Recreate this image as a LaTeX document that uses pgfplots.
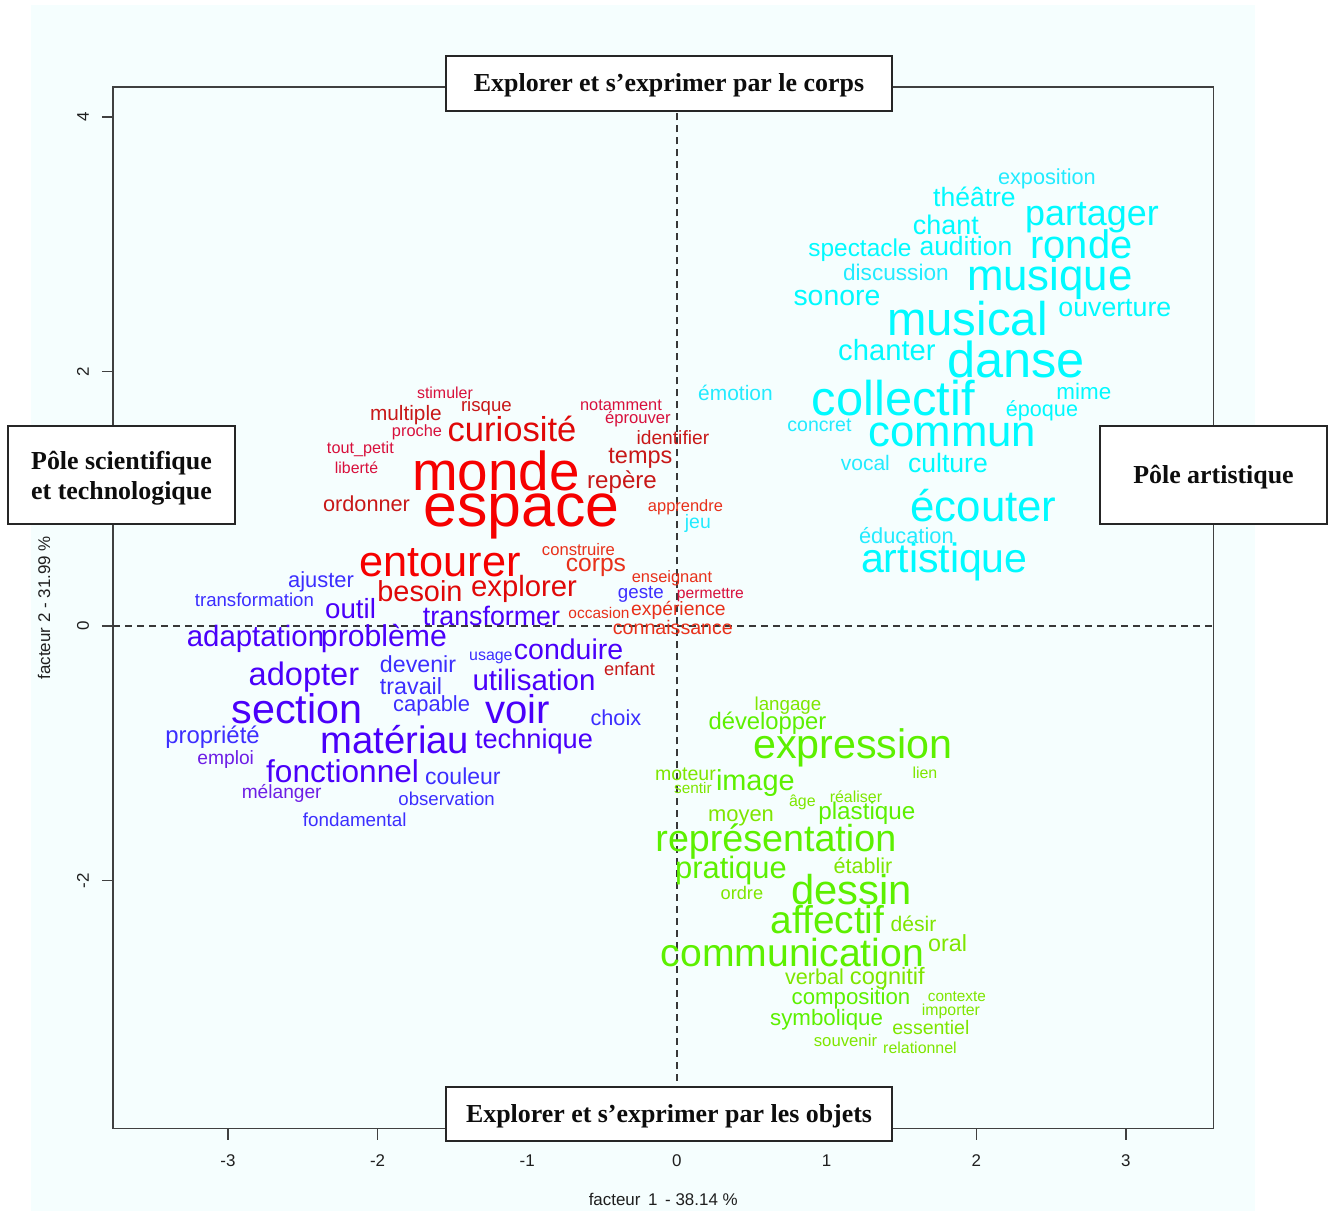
\documentclass[border=0pt]{standalone}
\usepackage{pgfplots}
\pgfplotsset{compat=1.18}
\usepackage{fontspec}
\setmainfont{Liberation Sans}
\newfontfamily\boxfont{Liberation Serif}

\definecolor{bgc}{HTML}{F5FEFE}
\definecolor{framec}{HTML}{404040}
\definecolor{dashc}{HTML}{383838}
\definecolor{cy}{HTML}{00FAFF}
\definecolor{cyb}{HTML}{22EBFF}
\definecolor{ra}{HTML}{F50000}
\definecolor{re}{HTML}{E00808}
\definecolor{rb}{HTML}{C81818}
\definecolor{rc}{HTML}{D8103C}
\definecolor{rd}{HTML}{E8301A}
\definecolor{ba}{HTML}{4A00FA}
\definecolor{bb}{HTML}{3C2EFF}
\definecolor{bc}{HTML}{6E1EE6}
\definecolor{ga}{HTML}{5CF000}
\definecolor{gb}{HTML}{7EE600}

\pgfplotsset{
  wd/.style 2 args={
    draw=none, mark=none,
    nodes near coords, point meta=explicit symbolic,
    every node near coord/.append style={anchor=base, inner sep=0pt,
      font=\fontsize{#1}{#1}\selectfont, text=#2},
  },
  dashline/.style={draw=dashc, line width=1.3bp, dash pattern=on 7bp off 5bp, mark=none},
}

\begin{document}
\begin{tikzpicture}[x=1bp,y=1bp]
\fill[bgc] (-82,-82.5) rectangle (1142,1123.5);
\path (-113,-82.5) rectangle (1223,1128.5);
\begin{axis}[
  at={(0,0)}, anchor=south west,
  scale only axis, width=1100.5bp, height=1041.5bp,
  xmin=-3.768, xmax=3.585, ymin=-3.949, ymax=4.236,
  xtick={-3,-2,-1,0,1,2,3}, ytick={-2,0,2,4},
  tick align=outside, xtick pos=bottom, ytick pos=left,
  major tick length=11bp,
  axis line style={draw=framec, line width=1.5bp},
  every tick/.style={draw=framec, line width=1.3bp},
  /pgf/number format/assume math mode=true,
  tick label style={font=\fontsize{17}{17}\selectfont, text=black!88},
  xticklabel style={anchor=base},
  yticklabel style={rotate=90, anchor=base},
  xticklabel shift=27bp,
  yticklabel shift=13bp,
  xlabel={facteur\hspace{0.45em}1\hspace{0.45em}- 38.14 \%},
  ylabel={facteur 2 - 31.99 \%},
  xlabel style={at={(axis description cs:0.5,-0.0744)}, anchor=base, font=\fontsize{17}{17}\selectfont, text=black!88},
  ylabel style={at={(axis description cs:-0.0572,0.5)}, anchor=base, font=\fontsize{17}{17}\selectfont, text=black!88},
  clip=false,
]
\addplot[dashline] coordinates {(-3.768,0) (3.585,0)};
\addplot[dashline] coordinates {(0,-3.949) (0,4.236)};
% cyan group
\addplot[wd={21.8}{cyb}] coordinates {(2.472,3.473) [exposition]};
\addplot[wd={26.6}{cy}] coordinates {(1.988,3.295) [théâtre]};
\addplot[wd={36}{cy}] coordinates {(2.773,3.151) [partager]};
\addplot[wd={27}{cy}] coordinates {(1.797,3.080) [chant]};
\addplot[wd={24.5}{cy}] coordinates {(1.223,2.902) [spectacle]};
\addplot[wd={26.6}{cy}] coordinates {(1.931,2.915) [audition]};
\addplot[wd={40}{cy}] coordinates {(2.703,2.892) [ronde]};
\addplot[wd={22.7}{cyb}] coordinates {(1.463,2.719) [discussion]};
\addplot[wd={44}{cy}] coordinates {(2.492,2.640) [musique]};
\addplot[wd={28.5}{cy}] coordinates {(1.069,2.517) [sonore]};
\addplot[wd={26.8}{cy}] coordinates {(2.926,2.431) [ouverture]};
\addplot[wd={47.5}{cy}] coordinates {(1.941,2.281) [musical]};
\addplot[wd={29.3}{cy}] coordinates {(1.403,2.090) [chanter]};
\addplot[wd={50.7}{cy}] coordinates {(2.265,1.957) [danse]};
\addplot[wd={21}{cyb}] coordinates {(0.391,1.776) [émotion]};
\addplot[wd={49}{cy}] coordinates {(1.446,1.658) [collectif]};
\addplot[wd={22.5}{cy}] coordinates {(2.719,1.784) [mime]};
\addplot[wd={21.7}{cy}] coordinates {(2.439,1.645) [époque]};
\addplot[wd={19.6}{cyb}] coordinates {(0.952,1.527) [concret]};
\addplot[wd={43.9}{cy}] coordinates {(1.841,1.409) [commun]};
\addplot[wd={21.1}{cyb}] coordinates {(1.259,1.226) [vocal]};
\addplot[wd={26.7}{cy}] coordinates {(1.811,1.205) [culture]};
\addplot[wd={44}{cy}] coordinates {(2.048,0.820) [écouter]};
\addplot[wd={21.9}{cyb}] coordinates {(1.533,0.650) [éducation]};
\addplot[wd={41.2}{cy}] coordinates {(1.787,0.417) [artistique]};
\addplot[wd={19.5}{cyb}] coordinates {(0.140,0.770) [jeu]};
% red group
\addplot[wd={16}{rc}] coordinates {(-1.550,1.792) [stimuler]};
\addplot[wd={18.7}{rb}] coordinates {(-1.273,1.684) [risque]};
\addplot[wd={20.9}{rb}] coordinates {(-1.811,1.613) [multiple]};
\addplot[wd={16.4}{rc}] coordinates {(-0.374,1.697) [notamment]};
\addplot[wd={16.7}{rc}] coordinates {(-0.261,1.595) [éprouver]};
\addplot[wd={16.4}{rc}] coordinates {(-1.737,1.493) [proche]};
\addplot[wd={34.7}{re}] coordinates {(-1.102,1.448) [curiosité]};
\addplot[wd={19.3}{rb}] coordinates {(-0.027,1.430) [identifier]};
\addplot[wd={16.3}{rc}] coordinates {(-2.115,1.352) [tout\_petit]};
\addplot[wd={23.6}{rb}] coordinates {(-0.244,1.281) [temps]};
\addplot[wd={15.9}{rc}] coordinates {(-2.141,1.202) [liberté]};
\addplot[wd={55}{ra}] coordinates {(-1.209,1.069) [monde]};
\addplot[wd={24.2}{rb}] coordinates {(-0.367,1.082) [repère]};
\addplot[wd={21.8}{rb}] coordinates {(-2.074,0.898) [ordonner]};
\addplot[wd={61}{ra}] coordinates {(-1.039,0.780) [espace]};
\addplot[wd={16.5}{rd}] coordinates {(0.057,0.898) [apprendre]};
\addplot[wd={43.5}{ra}] coordinates {(-1.583,0.387) [entourer]};
\addplot[wd={16.7}{rd}] coordinates {(-0.658,0.558) [construire]};
\addplot[wd={24.7}{rd}] coordinates {(-0.541,0.427) [corps]};
\addplot[wd={29}{re}] coordinates {(-1.717,0.191) [besoin]};
\addplot[wd={29.4}{re}] coordinates {(-1.022,0.230) [explorer]};
\addplot[wd={16.5}{rd}] coordinates {(-0.033,0.340) [enseignant]};
\addplot[wd={15.7}{rc}] coordinates {(0.224,0.220) [permettre]};
\addplot[wd={15.5}{rd}] coordinates {(-0.521,0.063) [occasion]};
\addplot[wd={19.4}{rd}] coordinates {(0.010,0.086) [expérience]};
\addplot[wd={19.7}{rd}] coordinates {(-0.027,-0.063) [connaissance]};
\addplot[wd={18.3}{rb}] coordinates {(-0.317,-0.391) [enfant]};
% blue group
\addplot[wd={22}{bb}] coordinates {(-2.378,0.299) [ajuster]};
\addplot[wd={18.7}{bb}] coordinates {(-2.823,0.157) [transformation]};
\addplot[wd={27.8}{ba}] coordinates {(-2.181,0.063) [outil]};
\addplot[wd={18.8}{bb}] coordinates {(-0.241,0.220) [geste]};
\addplot[wd={26.9}{ba}] coordinates {(-1.239,0.008) [transformer]};
\addplot[wd={29.5}{ba}] coordinates {(-2.816,-0.163) [adaptation]};
\addplot[wd={30.3}{ba}] coordinates {(-1.958,-0.163) [problème]};
\addplot[wd={16}{bb}] coordinates {(-1.243,-0.267) [usage]};
\addplot[wd={28.6}{ba}] coordinates {(-0.724,-0.262) [conduire]};
\addplot[wd={32.7}{ba}] coordinates {(-2.492,-0.464) [adopter]};
\addplot[wd={23.3}{bb}] coordinates {(-1.730,-0.367) [devenir]};
\addplot[wd={23.4}{bb}] coordinates {(-1.777,-0.542) [travail]};
\addplot[wd={29.6}{ba}] coordinates {(-0.955,-0.503) [utilisation]};
\addplot[wd={41.5}{ba}] coordinates {(-2.539,-0.765) [section]};
\addplot[wd={22}{bb}] coordinates {(-1.639,-0.673) [capable]};
\addplot[wd={40.3}{ba}] coordinates {(-1.066,-0.765) [voir]};
\addplot[wd={21.8}{bb}] coordinates {(-0.408,-0.778) [choix]};
\addplot[wd={24}{bb}] coordinates {(-3.103,-0.927) [propriété]};
\addplot[wd={38.4}{ba}] coordinates {(-1.886,-1.000) [matériau]};
\addplot[wd={27.3}{ba}] coordinates {(-0.955,-0.961) [technique]};
\addplot[wd={19.3}{bc}] coordinates {(-3.015,-1.092) [emploi]};
\addplot[wd={31.7}{ba}] coordinates {(-2.234,-1.231) [fonctionnel]};
\addplot[wd={23.1}{bb}] coordinates {(-1.430,-1.249) [couleur]};
\addplot[wd={19.2}{bc}] coordinates {(-2.641,-1.354) [mélanger]};
\addplot[wd={18.7}{bb}] coordinates {(-1.539,-1.407) [observation]};
\addplot[wd={18.9}{bb}] coordinates {(-2.153,-1.577) [fondamental]};
% green group
\addplot[wd={18.8}{gb}] coordinates {(0.742,-0.666) [langage]};
\addplot[wd={23.9}{ga}] coordinates {(0.605,-0.812) [développer]};
\addplot[wd={41.4}{ga}] coordinates {(1.176,-1.040) [expression]};
\addplot[wd={19.6}{gb}] coordinates {(0.057,-1.216) [moteur]};
\addplot[wd={29}{ga}] coordinates {(0.524,-1.289) [image]};
\addplot[wd={15.4}{gb}] coordinates {(0.107,-1.320) [sentir]};
\addplot[wd={16}{gb}] coordinates {(1.657,-1.197) [lien]};
\addplot[wd={16}{gb}] coordinates {(0.838,-1.420) [âge]};
\addplot[wd={16}{gb}] coordinates {(1.196,-1.389) [réaliser]};
\addplot[wd={24.3}{ga}] coordinates {(1.269,-1.519) [plastique]};
\addplot[wd={22}{gb}] coordinates {(0.428,-1.538) [moyen]};
\addplot[wd={37.8}{ga}] coordinates {(0.661,-1.774) [représentation]};
\addplot[wd={21.6}{gb}] coordinates {(1.243,-1.943) [établir]};
\addplot[wd={31}{ga}] coordinates {(0.361,-1.983) [pratique]};
\addplot[wd={18.3}{gb}] coordinates {(0.434,-2.148) [ordre]};
\addplot[wd={41.9}{ga}] coordinates {(1.169,-2.192) [dessin]};
\addplot[wd={39}{ga}] coordinates {(1.006,-2.415) [affectif]};
\addplot[wd={21.2}{gb}] coordinates {(1.581,-2.402) [désir]};
\addplot[wd={23.4}{gb}] coordinates {(1.809,-2.554) [oral]};
\addplot[wd={39.3}{ga}] coordinates {(0.772,-2.677) [communication]};
\addplot[wd={21.7}{gb}] coordinates {(0.919,-2.821) [verbal]};
\addplot[wd={23.7}{gb}] coordinates {(1.406,-2.821) [cognitif]};
\addplot[wd={22.3}{ga}] coordinates {(1.163,-2.971) [composition]};
\addplot[wd={15.4}{gb}] coordinates {(1.871,-2.952) [contexte]};
\addplot[wd={15.9}{gb}] coordinates {(1.831,-3.062) [importer]};
\addplot[wd={22.4}{ga}] coordinates {(1.000,-3.136) [symbolique]};
\addplot[wd={19.6}{gb}] coordinates {(1.697,-3.214) [essentiel]};
\addplot[wd={16.8}{gb}] coordinates {(1.126,-3.306) [souvenir]};
\addplot[wd={16}{gb}] coordinates {(1.624,-3.358) [relationnel]};
\end{axis}
\tikzset{boxline/.style={draw=black!85, line width=1.3bp, fill=white},
         boxtext/.style={font=\boxfont\bfseries\fontsize{26}{30}\selectfont, text=black!95, inner sep=0pt}}
\draw[boxline] (333,1017.5) rectangle (779,1072.5);
\node[boxtext, anchor=base] at (556,1037) {Explorer et s’exprimer par le corps};
\draw[boxline] (333,-12.5) rectangle (779,41.5);
\node[boxtext, anchor=base] at (556,6.5) {Explorer et s’exprimer par les objets};
\draw[boxline] (-105,604.5) rectangle (122,702.5);
\node[boxtext, anchor=base] at (8.5,658.5) {Pôle scientifique};
\node[boxtext, anchor=base] at (8.5,628.5) {et technologique};
\draw[boxline] (987,604.5) rectangle (1214,702.5);
\node[boxtext, anchor=base] at (1100.5,644.5) {Pôle artistique};
\end{tikzpicture}
\end{document}
